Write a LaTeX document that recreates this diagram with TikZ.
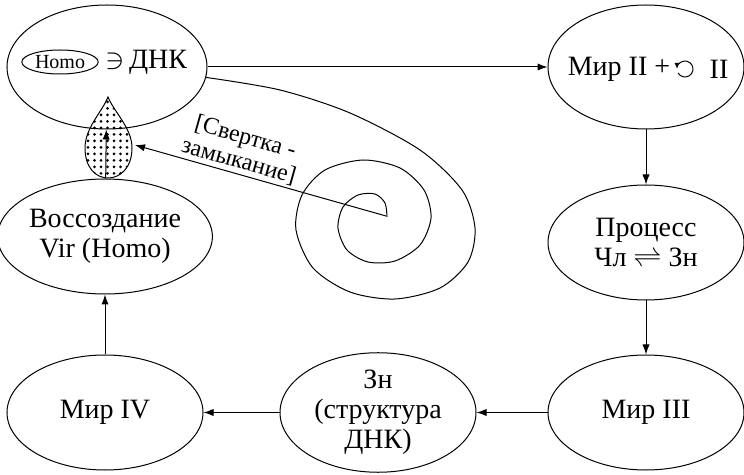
\documentclass[tikz,border=0pt]{standalone}
\usepackage{fontspec}
\setmainfont{Liberation Serif}
\usetikzlibrary{positioning, arrows.meta, shapes.geometric}

\begin{document}
\begin{tikzpicture}[x=0.5pt, y=-0.5pt, >={Latex[length=5pt, width=3.6pt]}, line width=0.5pt,
    world/.style={draw, ellipse, align=center, inner sep=0pt, minimum width=98pt, minimum height=57.5pt, font=\fontsize{14}{15}\selectfont}]
    \useasboundingbox (0,0) rectangle (744,475);
    % top row
    \node (dnk) [world, minimum width=100pt, minimum height=62pt] at (107,67) {};
    \node (homo) [draw, ellipse, inner xsep=1pt, inner ysep=0pt, minimum width=37pt, minimum height=12pt, font=\fontsize{10}{12}\selectfont] at (60,62) {Homo};
    \node (dnktext) [right=0pt of homo, font=\fontsize{14}{15}\selectfont] {$\ni$\hspace{2pt}ДНК};
    \node (mir2) [world, minimum height=62pt, right=170pt of dnk] {};
    \node (mir2a) [font=\fontsize{14}{15}\selectfont] at (619,69) {Мир II +};
    \coordinate (loop) at (685,69);
    \node (mir2b) [font=\fontsize{14}{15}\selectfont] at (719,69) {II};
    \draw [-{Latex[length=3pt, width=2.5pt]}] ([shift={(210:4pt)}]loop) arc [start angle=210, end angle=540, radius=4pt];
    % right column and bottom row
    \node (proc) [world, below=27.5pt of mir2] {Процесс\\Чл $\rightleftharpoons$ Зн};
    \node (mir3) [world, below=27pt of proc] {Мир III};
    \node (zn) [world, left=35.5pt of mir3] {Зн\\(структура\\ДНК)};
    \node (mir4) [world, left=38pt of zn] {Мир IV};
    \node (vir) [world, above=30pt of mir4] {Воссоздание\\Vir (Homo)};
    \draw [->] (dnk.east) -- (mir2.west);
    \draw [->] (mir2) -- (proc);
    \draw [->] (proc) -- (mir3);
    \draw [->] (mir3) -- (zn);
    \draw [->] (zn) -- (mir4);
    \draw [->] (mir4) -- (vir);
    % drop
    \begin{scope}
        \clip (108,97) .. controls (102,112) and (85,128) .. (85,148) .. controls (85,168) and (96,178) .. (108,178) .. controls (120,178) and (132,168) .. (132,148) .. controls (132,128) and (114,112) .. (108,97) -- cycle;
        \foreach \x in {88,94.5,...,132}
            \foreach \y in {102,108.5,...,178}
                \fill (\x,\y) circle [radius=0.75pt];
    \end{scope}
    \draw (108,97) .. controls (102,112) and (85,128) .. (85,148) .. controls (85,168) and (96,178) .. (108,178) .. controls (120,178) and (132,168) .. (132,148) .. controls (132,128) and (114,112) .. (108,97) -- cycle;
    \draw [->] (vir) -- (dnk);
    % spiral
    \draw plot [smooth] coordinates {(dnk.-6) (280,90) (350,113) (420,150) (462,190) (475,228) (468,262) (440,288) (395,299) (350,292) (313,268) (296,230) (302,195) (325,170) (363,160) (400,168) (424,190) (431,218) (420,245) (395,261) (368,262) (347,250) (338,228) (343,207) (358,195) (375,194) (385,203) (387,217)};
    \coordinate (spend) at (386,216);
    \coordinate (drop) at (135,145);
    \draw [->] (spend) -- node [sloped, above, pos=0.6, align=center, inner sep=1pt, font=\fontsize{12}{12.5}\selectfont] {[Свертка -\\замыкание]} (drop);
\end{tikzpicture}
\end{document}
